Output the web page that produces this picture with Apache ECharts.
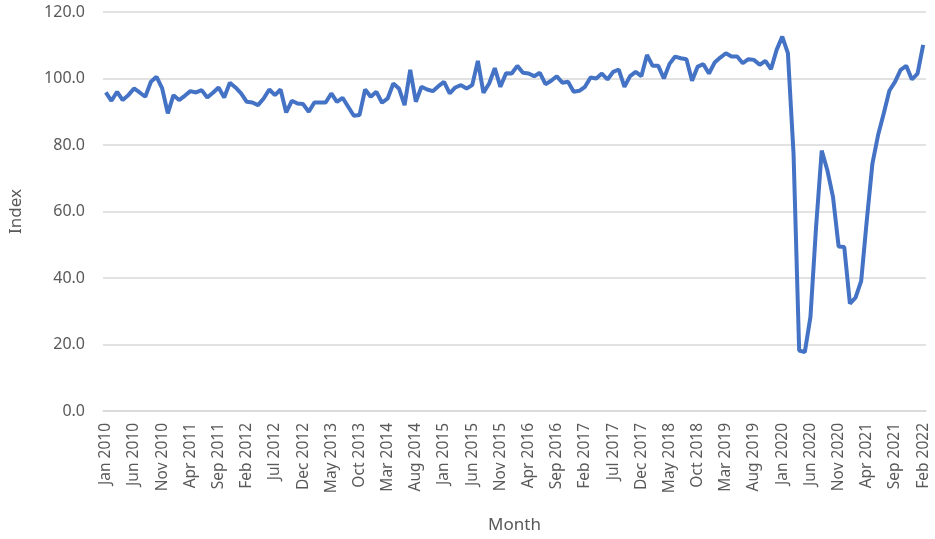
<!DOCTYPE html>
<html>
<head>
<meta charset="utf-8">
<script src="https://cdn.jsdelivr.net/npm/echarts@6/dist/echarts.min.js"></script>
<style>
html, body { margin: 0; padding: 0; background: #fff; }
#chart { width: 935px; height: 539px; }
</style>
</head>
<body>
<div id="chart"></div>
<script>
var monthNames = ['Jan', 'Feb', 'Mar', 'Apr', 'May', 'Jun', 'Jul', 'Aug', 'Sep', 'Oct', 'Nov', 'Dec'];
var startYear = 2010;
var yTicks = [0, 20, 40, 60, 80, 100, 120];

// monthly index, Jan 2010 - Feb 2022
var indexValues = [
	95.8, 93.3, 96.0, 93.5, 95.0, 97.0, 95.8, 94.5, 99.0, 100.5, 97.0, 89.5,
	95.0, 93.5, 94.8, 96.2, 95.8, 96.5, 94.3, 95.7, 97.3, 94.3, 98.7, 97.3,
	95.5, 93.0, 92.8, 92.0, 94.0, 96.7, 95.0, 96.7, 89.8, 93.3, 92.5, 92.3,
	90.0, 92.8, 92.8, 92.8, 95.5, 93.0, 94.2, 91.5, 88.8, 89.0, 96.7, 94.5,
	96.0, 92.7, 94.0, 98.5, 97.0, 92.0, 102.6, 93.0, 97.5, 96.7, 96.2, 97.7,
	99.0, 95.5, 97.3, 98.0, 97.0, 98.0, 105.3, 95.7, 98.5, 103.1, 97.5, 101.6,
	101.5, 103.8, 101.7, 101.5, 100.7, 101.7, 98.3, 99.3, 100.7, 98.7, 99.0, 96.0,
	96.3, 97.5, 100.3, 100.0, 101.5, 99.7, 102.0, 102.7, 97.5, 100.7, 102.0, 100.7,
	107.1, 103.8, 103.8, 100.0, 104.4, 106.6, 106.1, 105.8, 99.3, 103.6, 104.3, 101.5,
	104.8, 106.3, 107.6, 106.6, 106.6, 104.6, 105.8, 105.6, 104.1, 105.3, 102.8, 108.6,
	112.6, 107.6, 77.5, 18.2, 17.7, 28.3, 55.4, 78.3, 72.4, 64.4, 49.5, 49.3,
	32.3, 34.1, 39.1, 57.4, 74.5, 83.0, 89.5, 96.3, 99.0, 102.6, 103.8, 99.7,
	101.5, 110.1
];

var categories = [];
for (var i = 0; i < indexValues.length; i++) {
	categories.push(monthNames[i % 12] + ' ' + (startYear + Math.floor(i / 12)));
}

var myChart = echarts.init(document.getElementById('chart'));
var font = 'Noto Sans';

var option = {
	animation: false,
	grid: {
		left: 98,
		right: 9,
		top: 12,
		bottom: 128
	},
	xAxis: {
		type: 'category',
		data: categories,
		boundaryGap: true,
		name: 'Month',
		nameLocation: 'middle',
		nameGap: 106,
		nameTextStyle: { color: '#595959', fontSize: 17, fontFamily: font },
		axisLine: { lineStyle: { color: '#d9d9d9', width: 1.5 } },
		axisTick: { show: false },
		axisLabel: {
			interval: 4,
			rotate: 90,
			color: '#595959',
			fontSize: 15.5,
			fontFamily: font,
			margin: 12
		}
	},
	yAxis: {
		type: 'value',
		min: yTicks[0],
		max: yTicks[yTicks.length - 1],
		interval: yTicks[1] - yTicks[0],
		name: 'Index',
		nameLocation: 'middle',
		nameGap: 78,
		nameRotate: 90,
		nameTextStyle: { color: '#595959', fontSize: 17, fontFamily: font },
		axisLine: { show: false },
		axisTick: { show: false },
		splitLine: { lineStyle: { color: '#d9d9d9', width: 1.5 } },
		axisLabel: {
			color: '#595959',
			fontSize: 16,
			fontFamily: font,
			margin: 18,
			formatter: function (v) { return v.toFixed(1); }
		}
	},
	series: [{
		name: 'Index',
		type: 'line',
		data: indexValues,
		symbol: 'none',
		smooth: false,
		lineStyle: { color: '#4472C4', width: 4 }
	}]
};
myChart.setOption(option);
</script>
</body>
</html>
